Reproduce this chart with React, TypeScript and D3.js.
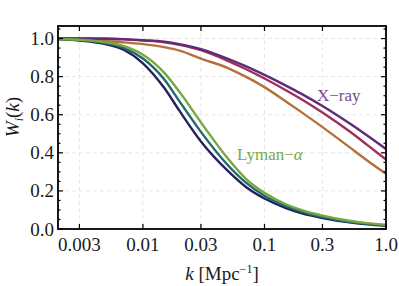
import { useEffect, useRef } from "react";
import * as d3 from "d3";

const W = 399;
const H = 286;
const M = { left: 58, right: 386, top: 26, bottom: 229 };

const kValues = [0.002, 0.003, 0.005, 0.007, 0.01, 0.015, 0.02, 0.03, 0.05, 0.07, 0.1, 0.15, 0.2, 0.3, 0.5, 0.7, 1.0];

// top group (X-ray)
const xrayPurple = [1.0, 1.0, 0.999, 0.997, 0.992, 0.984, 0.971, 0.945, 0.894, 0.855, 0.809, 0.753, 0.711, 0.646, 0.555, 0.491, 0.42];
const xrayCrimson = [1.0, 1.0, 0.999, 0.996, 0.99, 0.981, 0.967, 0.939, 0.883, 0.84, 0.79, 0.729, 0.683, 0.612, 0.513, 0.442, 0.365];
const xrayOrange = [0.997, 0.994, 0.986, 0.98, 0.971, 0.955, 0.937, 0.895, 0.845, 0.8, 0.745, 0.67, 0.615, 0.535, 0.43, 0.36, 0.29];

// bottom group (Lyman-alpha)
const lyaNavy = [0.997, 0.99, 0.97, 0.94, 0.87, 0.74, 0.62, 0.46, 0.305, 0.222, 0.16, 0.11, 0.084, 0.058, 0.035, 0.025, 0.017];
const lyaTeal = [0.997, 0.992, 0.975, 0.95, 0.895, 0.785, 0.67, 0.51, 0.335, 0.245, 0.175, 0.12, 0.092, 0.063, 0.038, 0.027, 0.019];
const lyaGreen = [0.998, 0.994, 0.98, 0.96, 0.915, 0.82, 0.72, 0.56, 0.37, 0.265, 0.19, 0.13, 0.1, 0.07, 0.043, 0.031, 0.022];

const series = [
  { values: xrayOrange, color: "#b5703b" },
  { values: xrayCrimson, color: "#9e2f5c" },
  { values: xrayPurple, color: "#5f2a78" },
  { values: lyaNavy, color: "#25215e" },
  { values: lyaTeal, color: "#1f6b6b" },
  { values: lyaGreen, color: "#77a83c" },
];

const xTicks = [0.003, 0.01, 0.03, 0.1, 0.3, 1.0];
const xTickLabels = ["0.003", "0.01", "0.03", "0.1", "0.3", "1.0"];
const yTicks = [0, 0.2, 0.4, 0.6, 0.8, 1.0];
const yMinor = d3.range(0, 1.051, 0.05);

const FONT = "\"Liberation Serif\", \"Times New Roman\", serif";

export default function App() {
  const ref = useRef<SVGSVGElement>(null);

  useEffect(() => {
    const svg = d3.select(ref.current);
    svg.selectAll("*").remove();

    const x = d3.scaleLog().domain([0.002, 1]).range([M.left, M.right]);
    const y = d3.scaleLinear().domain([0, 1.066]).range([M.bottom, M.top]);

    svg
      .append("defs")
      .append("clipPath")
      .attr("id", "plot-clip")
      .append("rect")
      .attr("x", M.left)
      .attr("y", M.top)
      .attr("width", M.right - M.left)
      .attr("height", M.bottom - M.top);

    // grid
    const grid = svg.append("g").attr("stroke", "#e6e6e6").attr("stroke-width", 1).attr("stroke-dasharray", "4,3");
    grid
      .selectAll("line.gx")
      .data(xTicks.slice(0, -1))
      .join("line")
      .attr("x1", (d) => x(d))
      .attr("x2", (d) => x(d))
      .attr("y1", M.top)
      .attr("y2", M.bottom);
    grid
      .selectAll("line.gy")
      .data(yTicks.slice(1))
      .join("line")
      .attr("x1", M.left)
      .attr("x2", M.right)
      .attr("y1", (d) => y(d))
      .attr("y2", (d) => y(d));

    const line = d3
      .line<number>()
      .x((_, i) => x(kValues[i]))
      .y((d) => y(d))
      .curve(d3.curveMonotoneX);

    svg
      .append("g")
      .attr("clip-path", "url(#plot-clip)")
      .selectAll("path")
      .data(series)
      .join("path")
      .attr("d", (s) => line(s.values))
      .attr("fill", "none")
      .attr("stroke", (s) => s.color)
      .attr("stroke-width", 2.4)
      .attr("stroke-linejoin", "round");

    // ticks (inward)
    const ticks = svg.append("g").attr("stroke", "#000").attr("stroke-width", 1.2);
    xTicks.forEach((t) => {
      ticks.append("line").attr("x1", x(t)).attr("x2", x(t)).attr("y1", M.bottom).attr("y2", M.bottom - 5);
      ticks.append("line").attr("x1", x(t)).attr("x2", x(t)).attr("y1", M.top).attr("y2", M.top + 5);
    });
    yMinor.forEach((t) => {
      const major = Math.abs(t * 5 - Math.round(t * 5)) < 1e-6;
      const len = major ? 5 : 2.5;
      ticks.append("line").attr("x1", M.left).attr("x2", M.left + len).attr("y1", y(t)).attr("y2", y(t));
      ticks.append("line").attr("x1", M.right).attr("x2", M.right - len).attr("y1", y(t)).attr("y2", y(t));
    });

    // frame
    svg
      .append("rect")
      .attr("x", M.left)
      .attr("y", M.top)
      .attr("width", M.right - M.left)
      .attr("height", M.bottom - M.top)
      .attr("fill", "none")
      .attr("stroke", "#000")
      .attr("stroke-width", 1.8);

    // tick labels
    const labels = svg.append("g").style("font-family", FONT).attr("font-size", 19).attr("fill", "#1a1a1a");
    xTicks.forEach((t, i) => {
      labels
        .append("text")
        .attr("x", x(t))
        .attr("y", 251)
        .attr("text-anchor", "middle")
        .text(xTickLabels[i]);
    });
    yTicks.forEach((t) => {
      labels
        .append("text")
        .attr("x", 54)
        .attr("y", y(t) + 6.5)
        .attr("text-anchor", "end")
        .text(t.toFixed(1));
    });

    // axis titles
    const xl = svg
      .append("text")
      .attr("x", (M.left + M.right) / 2)
      .attr("y", 280)
      .attr("text-anchor", "middle")
      .style("font-family", FONT)
      .attr("font-size", 19)
      .attr("fill", "#1a1a1a");
    xl.append("tspan").attr("font-style", "italic").text("k");
    xl.append("tspan").text(" [Mpc");
    xl.append("tspan").attr("font-size", 12).attr("dy", -7).text("−1");
    xl.append("tspan").attr("dy", 7).text("]");

    const yl = svg
      .append("text")
      .attr("transform", "translate(19,117) rotate(-90)")
      .attr("text-anchor", "middle")
      .style("font-family", FONT)
      .attr("font-size", 19)
      .attr("fill", "#1a1a1a");
    yl.append("tspan").attr("font-style", "italic").text("W");
    yl.append("tspan").attr("font-style", "italic").attr("font-size", 12).attr("dy", 4).text("i");
    yl.append("tspan").attr("dy", -4).text("(");
    yl.append("tspan").attr("font-style", "italic").text("k");
    yl.append("tspan").text(")");

    // series labels
    svg
      .append("text")
      .attr("x", 317)
      .attr("y", 101)
      .style("font-family", FONT)
      .attr("font-size", 17)
      .attr("fill", "#7a4a8c")
      .text("X−ray");
    const ly = svg
      .append("text")
      .attr("x", 237)
      .attr("y", 159.5)
      .style("font-family", FONT)
      .attr("font-size", 17)
      .attr("fill", "#79a846");
    ly.append("tspan").text("Lyman−");
    ly.append("tspan").attr("font-style", "italic").text("α");
  }, []);

  return (
    <svg
      ref={ref}
      width={W}
      height={H}
      style={{ position: "absolute", left: 0, top: 0, background: "#fff" }}
    />
  );
}
